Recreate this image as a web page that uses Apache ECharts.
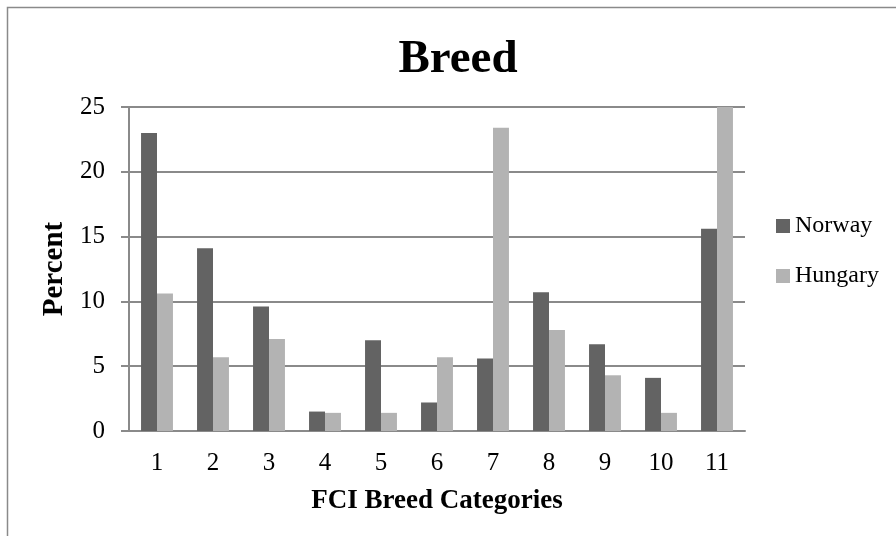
<!DOCTYPE html>
<html><head><meta charset="utf-8">
<script src="https://cdn.jsdelivr.net/npm/echarts@6/dist/echarts.min.js"></script>
<style>html,body{margin:0;padding:0;background:#fff}#c{width:896px;height:536px}</style>
</head><body><div id="c"></div>
<script>
const categories = ['1','2','3','4','5','6','7','8','9','10','11'];
const norway = [23.0, 14.1, 9.6, 1.5, 7.0, 2.2, 5.6, 10.7, 6.7, 4.1, 15.6];
const hungary = [10.6, 5.7, 7.1, 1.4, 1.4, 5.7, 23.4, 7.8, 4.3, 1.4, 25.0];
const yTicks = [0, 5, 10, 15, 20, 25];

const font = '"Liberation Serif", "Times New Roman", serif';
const chart = echarts.init(document.getElementById('c'));
chart.setOption({
  animation: false,
  textStyle: { fontFamily: font },
  graphic: [{ type: 'rect', shape: { x: 7.5, y: 7.5, width: 900, height: 540 }, style: { fill: 'none', stroke: '#8a8a8a', lineWidth: 1.5 } }],
  title: { text: 'Breed', left: 453, textAlign: 'center', top: 31,
    textStyle: { fontFamily: font, fontWeight: 'bold', fontSize: 47, color: '#000' } },
  legend: { orient: 'vertical', left: 776, top: 214, padding: 0, itemWidth: 14, itemHeight: 14, itemGap: 26,
    icon: 'rect', textStyle: { fontFamily: font, fontSize: 24, color: '#000', padding: [0,0,0,0] },
    data: ['Norway', 'Hungary'] },
  grid: { left: 129, right: 151, top: 107, bottom: 105 },
  xAxis: { type: 'category', data: categories,
    name: 'FCI Breed Categories', nameLocation: 'middle', nameGap: 57,
    nameTextStyle: { fontFamily: font, fontWeight: 'bold', fontSize: 27, color: '#000' },
    axisLine: { lineStyle: { color: '#8a8a8a', width: 2 } }, axisTick: { show: false },
    axisLabel: { fontFamily: font, fontSize: 25, color: '#000', margin: 20 } },
  yAxis: { type: 'value', min: yTicks[0], max: yTicks[yTicks.length-1], interval: 5,
    name: 'Percent', nameLocation: 'middle', nameGap: 53,
    nameTextStyle: { fontFamily: font, fontWeight: 'bold', fontSize: 29, color: '#000' },
    axisLine: { show: true, lineStyle: { color: '#8a8a8a', width: 2 } },
    axisTick: { show: true, length: 8, lineStyle: { color: '#8a8a8a', width: 2 } },
    splitLine: { lineStyle: { color: '#8a8a8a', width: 2 } },
    axisLabel: { fontFamily: font, fontSize: 25, color: '#000', margin: 24 } },
  series: [
    { name: 'Norway', type: 'bar', data: norway, barGap: '0%', barCategoryGap: '43%', itemStyle: { color: '#636363' } },
    { name: 'Hungary', type: 'bar', data: hungary, barGap: '0%', barCategoryGap: '43%', itemStyle: { color: '#b3b3b3' } }
  ]
});
</script></body></html>
